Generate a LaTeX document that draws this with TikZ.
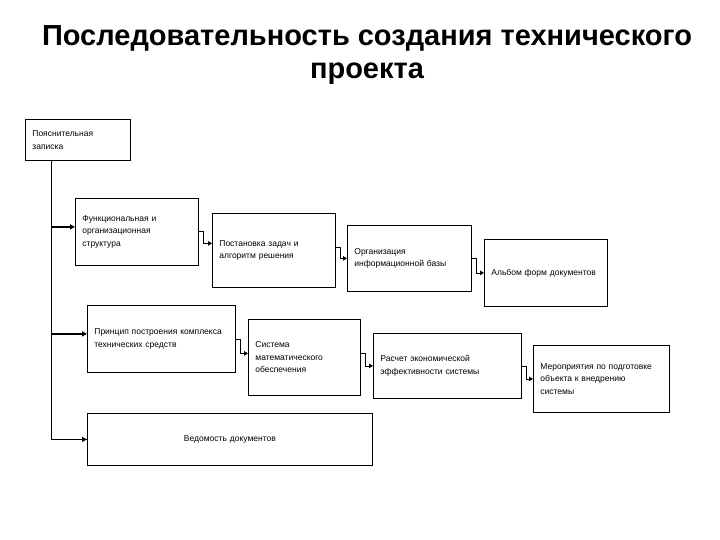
\documentclass[tikz,border=0pt]{standalone}
\usepackage{fontspec}
\setmainfont{Liberation Sans}
\usepackage{tikz}
\usetikzlibrary{arrows.meta,positioning}

\begin{document}
\begin{tikzpicture}[x=1pt,y=-1pt,
	box/.style={draw=black,line width=0.8pt,inner xsep=7pt,inner ysep=2pt,align=left,anchor=north west,font=\fontsize{8.5}{12.5}\selectfont},
	ttl/.style={font=\fontsize{29}{33}\selectfont\bfseries,align=center},
	arr/.style={-{Triangle[length=4pt,width=4.5pt]},line width=0.8pt,black},
	feed/.style={-{Triangle[length=5pt,width=5pt]},line width=1.6pt,black}
	]
	\useasboundingbox (0,0) rectangle (720,540);
	\node[ttl] (title) at (367,55) {Последовательность создания технического\\проекта};
	% boxes
	\node[box,text width=91pt,minimum height=41pt] (b1) at (25,119) {Пояснительная\\записка};
	\node[box,text width=109pt,minimum height=67pt] (b2) at (75,198) {Функциональная и\\организационная\\структура};
	\node[box,text width=109pt,minimum height=74pt] (b3) at (212,213) {Постановка задач и\\алгоритм решения};
	\node[box,text width=110pt,minimum height=66pt] (b4) at (347,225) {Организация\\информационной базы};
	\node[box,text width=109pt,minimum height=67pt] (b5) at (484,239) {Альбом форм документов};
	\node[box,text width=134pt,minimum height=67pt] (b6) at (87,305) {Принцип построения комплекса\\технических средств};
	\node[box,text width=98pt,minimum height=76pt] (b7) at (248,319) {Система\\математического\\обеспечения};
	\node[box,text width=134pt,minimum height=65pt] (b8) at (373,333) {Расчет экономической\\эффективности системы};
	\node[box,text width=122pt,minimum height=67pt] (b9) at (533,345) {Мероприятия по подготовке\\объекта к внедрению\\системы};
	\node[box,text width=271pt,minimum height=52pt,align=center] (b10) at (87,413) {Ведомость документов};
	% trunk
	\coordinate (trunk) at ([xshift=26pt]b1.south west);
	\draw[line width=0.8pt] (trunk) |- (b10.west);
	\draw[feed] ([yshift=5pt]b2.west -| trunk) -- ([yshift=5pt]b2.west);
	\draw[feed] ([yshift=5pt]b6.west -| trunk) -- ([yshift=5pt]b6.west);
	\draw[feed] (b10.west -| trunk) -- (b10.west);
	% steps
	\draw[arr] (b2.east) -- ++(5,0) |- ([yshift=7pt]b3.west);
	\draw[arr] ([yshift=3pt]b3.east) -- ++(5,0) |- (b4.west);
	\draw[arr] (b4.east) -- ++(5,0) |- (b5.west);
	\draw[arr] (b6.east) -- ++(5,0) |- ([yshift=4pt]b7.west);
	\draw[arr] ([yshift=4pt]b7.east) -- ++(5,0) |- (b8.west);
	\draw[arr] (b8.east) -- ++(5,0) |- (b9.west);
\end{tikzpicture}
\end{document}
